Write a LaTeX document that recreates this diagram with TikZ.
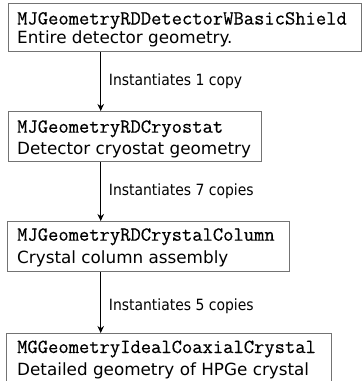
\documentclass[tikz,border=0pt]{standalone}
\usepackage{fontspec}
\usetikzlibrary{arrows.meta}
\newfontfamily\descfont{DejaVu Sans}
\newfontfamily\labfont{DejaVu Sans Condensed}
\newfontfamily\clsfont[FakeBold=0.4]{Latin Modern Mono}
\begin{document}
\begin{tikzpicture}[x=1pt,y=-1pt,
  box/.style={draw=black!55, line width=0.9pt, fill=white, inner sep=0pt, anchor=north west},
  cls/.style={anchor=base west, inner sep=0pt, font=\clsfont\fontsize{20}{24}\selectfont},
  desc/.style={anchor=base west, inner sep=0pt, font=\descfont\fontsize{16.8}{20}\selectfont},
  lab/.style={anchor=west, inner sep=0pt, xshift=7.5pt, font=\labfont\fontsize{15.5}{18}\selectfont},
  arr/.style={-{Stealth[length=7pt,width=6.5pt]}, line width=1.4pt, black}]
\useasboundingbox (0,0) rectangle (362,381);
\fill[white] (0,0) rectangle (362,381);
% boxes
\node[box, minimum width=353pt, minimum height=48pt] (b1) at (8,3) {};
\node[box, minimum width=253pt, minimum height=50pt] (b2) at (8,111) {};
\node[box, minimum width=282pt, minimum height=50pt] (b3) at (7,221) {};
\node[box, minimum width=325pt, minimum height=70pt] (b4) at (6,333) {};
% texts
\node[cls]  (t1a) at (17,24.5) {MJGeometryRDDetectorWBasicShield};
\node[desc] (t1b) at (17,43.5) {Entire detector geometry.};
\node[cls]  (t2a) at (17,132.7) {MJGeometryRDCryostat};
\node[desc] (t2b) at (17,154) {Detector cryostat geometry};
\node[cls]  (t3a) at (17,240.7) {MJGeometryRDCrystalColumn};
\node[desc] (t3b) at (17,263.5) {Crystal column assembly};
\node[cls]  (t4a) at (17,353) {MGGeometryIdealCoaxialCrystal};
\node[desc] (t4b) at (17,375) {Detailed geometry of HPGe crystal};
% arrows
\coordinate (ax) at (100.7,0);
\draw[arr] (b1.south -| ax) -- node[lab] (l1) {Instantiates 1 copy} (b2.north -| ax);
\draw[arr] (b2.south -| ax) -- node[lab] (l2) {Instantiates 7 copies} (b3.north -| ax);
\draw[arr] (b3.south -| ax) -- node[lab, yshift=-4pt] (l3) {Instantiates 5 copies} (b4.north -| ax);
\end{tikzpicture}
\end{document}
